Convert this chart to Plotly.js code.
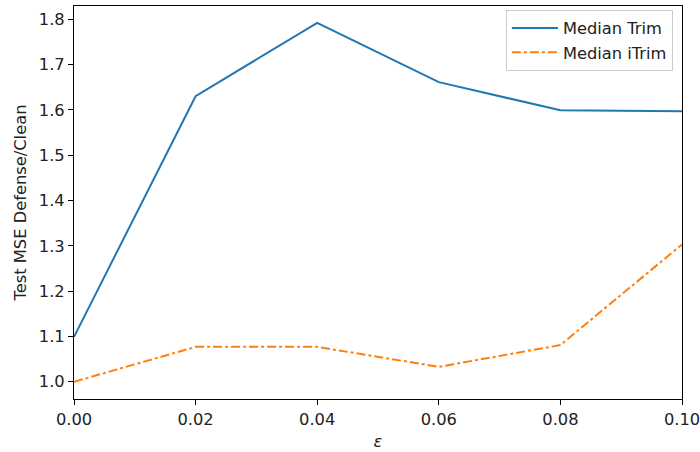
<!DOCTYPE html>
<html>
<head>
<meta charset="utf-8">
<script src="https://cdn.plot.ly/plotly-3.0.1.min.js"></script>
<style>html,body{margin:0;padding:0;background:#fff;}#chart{width:700px;height:452px;}</style>
</head>
<body>
<div id="chart"></div>
<script>
const epsilon = [0.00, 0.02, 0.04, 0.06, 0.08, 0.10];
const medianTrim = [1.099, 1.630, 1.792, 1.661, 1.599, 1.597];
const medianITrim = [1.000, 1.077, 1.077, 1.033, 1.081, 1.303];
const xTicks = [0.00, 0.02, 0.04, 0.06, 0.08, 0.10];
const xTickText = ["0.00", "0.02", "0.04", "0.06", "0.08", "0.10"];
const yTicks = [1.0, 1.1, 1.2, 1.3, 1.4, 1.5, 1.6, 1.7, 1.8];
const yTickText = ["1.0", "1.1", "1.2", "1.3", "1.4", "1.5", "1.6", "1.7", "1.8"];

const font = {family: "DejaVu Sans", size: 16.3, color: "#222"};
const data = [
  {x: epsilon, y: medianTrim, type: "scatter", mode: "lines", name: "Median Trim",
   line: {color: "#1f77b4", width: 2}},
  {x: epsilon, y: medianITrim, type: "scatter", mode: "lines", name: "Median iTrim",
   line: {color: "#ff7f0e", width: 2, dash: "dashdot"}}
];
const axisCommon = {showgrid: false, zeroline: false, showline: true, linecolor: "#000", linewidth: 1,
  mirror: true, ticks: "outside", ticklen: 5, tickwidth: 1, tickcolor: "#000", tickfont: font,
  ticklabeloverflow: "allow"};
const layout = {
  width: 700, height: 452,
  margin: {l: 74, r: 18, t: 6, b: 53},
  paper_bgcolor: "#fff", plot_bgcolor: "#fff",
  font: font,
  showlegend: true,
  legend: {x: 0.985, y: 0.99, xanchor: "right", yanchor: "top", bgcolor: "rgba(255,255,255,0.8)",
    bordercolor: "#ccc", borderwidth: 1, font: font, itemwidth: 46, tracegroupgap: 0},
  xaxis: Object.assign({}, axisCommon, {range: [0, 0.10], tickvals: xTicks, ticktext: xTickText,
    title: {text: "<i>ε</i>", font: font, standoff: 8}}),
  yaxis: Object.assign({}, axisCommon, {range: [0.962, 1.829], tickvals: yTicks, ticktext: yTickText,
    title: {text: "Test MSE Defense/Clean", font: font, standoff: 8}})
};
Plotly.newPlot("chart", data, layout, {displayModeBar: false, staticPlot: true});
</script>
</body>
</html>
